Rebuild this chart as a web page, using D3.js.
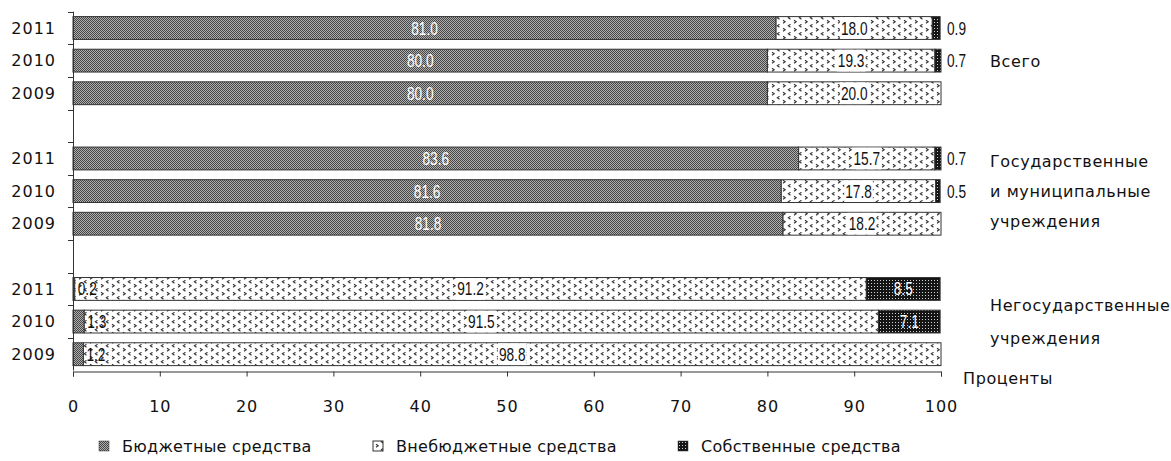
<!DOCTYPE html>
<html><head><meta charset="utf-8">
<script src="https://cdn.jsdelivr.net/npm/d3@7/dist/d3.min.js"></script>
<style>
body{margin:0;background:#fff;}
svg{display:block;}
.lab{font-family:"DejaVu Sans",Verdana,sans-serif;font-size:16px;fill:#111;letter-spacing:0.6px;}
.num{font-family:"DejaVu Sans",Verdana,sans-serif;font-size:16px;fill:#111;letter-spacing:1px;}
.leg{font-family:"DejaVu Sans",Verdana,sans-serif;font-size:16px;fill:#111;letter-spacing:0.3px;}
.val{font-family:"Liberation Sans",Arial,sans-serif;font-size:18px;}
</style></head>
<body>
<svg id="c" width="1171" height="461"></svg>
<script>
const groupNames = [["Всего"], ["Государственные", "и муниципальные", "учреждения"], ["Негосударственные", "учреждения"]];
const years = ["2011", "2010", "2009"];
const budget = [81.0, 80.0, 80.0, 83.6, 81.6, 81.8, 0.2, 1.3, 1.2];
const extra  = [18.0, 19.3, 20.0, 15.7, 17.8, 18.2, 91.2, 91.5, 98.8];
const own    = [0.9, 0.7, 0, 0.7, 0.5, 0, 8.5, 7.1, 0];
const xTicks = [0, 10, 20, 30, 40, 50, 60, 70, 80, 90, 100];
const seriesNames = ["Бюджетные средства", "Внебюджетные средства", "Собственные средства"];
const unitLabel = "Проценты";

const svg = d3.select("#c");
const defs = svg.append("defs");
const p1 = defs.append("pattern").attr("id","pBud").attr("patternUnits","userSpaceOnUse").attr("width",2).attr("height",2);
p1.append("rect").attr("width",2).attr("height",2).attr("fill","#b0b0b0");
p1.append("rect").attr("width",1).attr("height",1).attr("fill","#454545");
p1.append("rect").attr("x",1).attr("y",1).attr("width",1).attr("height",1).attr("fill","#454545");
const p2 = defs.append("pattern").attr("id","pExt").attr("patternUnits","userSpaceOnUse").attr("width",11).attr("height",8);
p2.append("rect").attr("width",11).attr("height",8).attr("fill","#fff");
p2.append("path").attr("d","M9.5,0.3 L7.3,1.8 L9.5,3.3").attr("stroke","#333").attr("stroke-width",1.1).attr("fill","none");
p2.append("path").attr("d","M2,4.3 L4.2,5.8 L2,7.3").attr("stroke","#333").attr("stroke-width",1.1).attr("fill","none");
const p3 = defs.append("pattern").attr("id","pOwn").attr("patternUnits","userSpaceOnUse").attr("width",3).attr("height",3);
p3.append("rect").attr("width",3).attr("height",3).attr("fill","#151515");
p3.append("rect").attr("x",1).attr("y",1).attr("width",1).attr("height",1).attr("fill","#d0d0d0");

const fills = ["url(#pBud)","url(#pExt)","url(#pOwn)"];

const slots = [];
groupNames.forEach((g,gi)=>{
  if(gi>0) slots.push("gap"+gi);
  years.forEach(y=>slots.push(gi+"-"+y));
});
const rowKeys = [];
groupNames.forEach((g,gi)=>years.forEach(y=>rowKeys.push(gi+"-"+y)));

const x = d3.scaleLinear().domain([0,100]).range([73,941]);
const y = d3.scaleBand().domain(slots).range([11.7,370.5]).paddingInner(0.3).paddingOuter(0.15);
const step = y.step(), bw = y.bandwidth(), off = (step-bw)/2;
const SX = 0.76;

const rows = rowKeys.map((k,i)=>({key:k, vals:[budget[i],extra[i],own[i]]}));
const g = svg.append("g");
rows.forEach(r=>{
  let acc = 0;
  r.vals.forEach((v,si)=>{
    if(v<=0){return;}
    g.append("rect").attr("x",x(acc)).attr("y",y(r.key)).attr("width",x(acc+v)-x(acc)).attr("height",bw)
      .attr("fill",fills[si]).attr("stroke","#333").attr("stroke-width",1);
    acc += v;
  });
});
function val(px, py, txt, anchor, color){
  return g.append("text").attr("class","val").attr("transform",`translate(${px},${py}) scale(${SX},1)`)
    .attr("dy","0.36em").attr("text-anchor",anchor).attr("fill",color).text(txt);
}
rows.forEach(r=>{
  const cy = y(r.key)+bw/2;
  const [b,e,o] = r.vals;
  if(b>=5) val(x(b/2), cy, b.toFixed(1), "middle", "#fff");
  else val(x(b)+3, cy, b.toFixed(1), "start", "#111");
  const t = val(x(b+e/2), cy, e.toFixed(1), "middle", "#111");
  const w = t.node().getBBox().width*SX;
  g.insert("rect","text:last-child").attr("x",x(b+e/2)-w/2-1).attr("y",y(r.key)+0.5).attr("width",w+2).attr("height",bw-1).attr("fill","#fff");
  t.raise();
  if(o>0){
    if(o>=5) val(x(b+e+o/2), cy, o.toFixed(1), "middle", "#fff");
    else val(x(100)+6, cy, o.toFixed(1), "start", "#111");
  }
});

const ax = svg.append("g").attr("stroke","#333").attr("stroke-width",1);
ax.append("line").attr("x1",73.5).attr("x2",73.5).attr("y1",y(slots[0])-off).attr("y2",y(slots[slots.length-1])+bw+off);
slots.forEach(s=>{
  ax.append("line").attr("x1",68).attr("x2",73.5).attr("y1",Math.round(y(s)-off)+0.5).attr("y2",Math.round(y(s)-off)+0.5);
});
const yLast = Math.round(y(slots[slots.length-1])+bw+off)+0.5;
const xa = svg.append("g").attr("transform",`translate(0,${yLast})`)
  .call(d3.axisBottom(x).tickValues(xTicks).tickSize(5).tickFormat(d3.format("d")));
xa.select(".domain").attr("stroke","#333");
xa.selectAll(".tick line").attr("stroke","#333");
xa.selectAll(".tick text").attr("class","num").attr("dy","0").attr("y",40).style("font-size","16px").attr("fill","#111");

rows.forEach(r=>{
  svg.append("text").attr("class","num").attr("x",56).attr("y",y(r.key)+bw/2).attr("dy","0.36em").attr("text-anchor","end").text(r.key.split("-")[1]);
});
const groupY = [[61],[161,191,221],[305,338]];
groupNames.forEach((lines,gi)=>{
  lines.forEach((l,li)=>{
    svg.append("text").attr("class","lab").attr("x",990).attr("y",groupY[gi][li]).attr("dy","0.36em").text(l);
  });
});
svg.append("text").attr("class","lab").attr("x",963).attr("y",378).attr("dy","0.36em").text(unitLabel);

const legX = [99, 373, 678];
seriesNames.forEach((n,i)=>{
  svg.append("rect").attr("x",legX[i]).attr("y",441).attr("width",10).attr("height",10).attr("fill",fills[i]).attr("stroke","#333").attr("stroke-width",i==1?1:0.5);
  svg.append("text").attr("class","leg").attr("x",legX[i]+23).attr("y",446).attr("dy","0.36em").text(n);
});
</script>
</body></html>
